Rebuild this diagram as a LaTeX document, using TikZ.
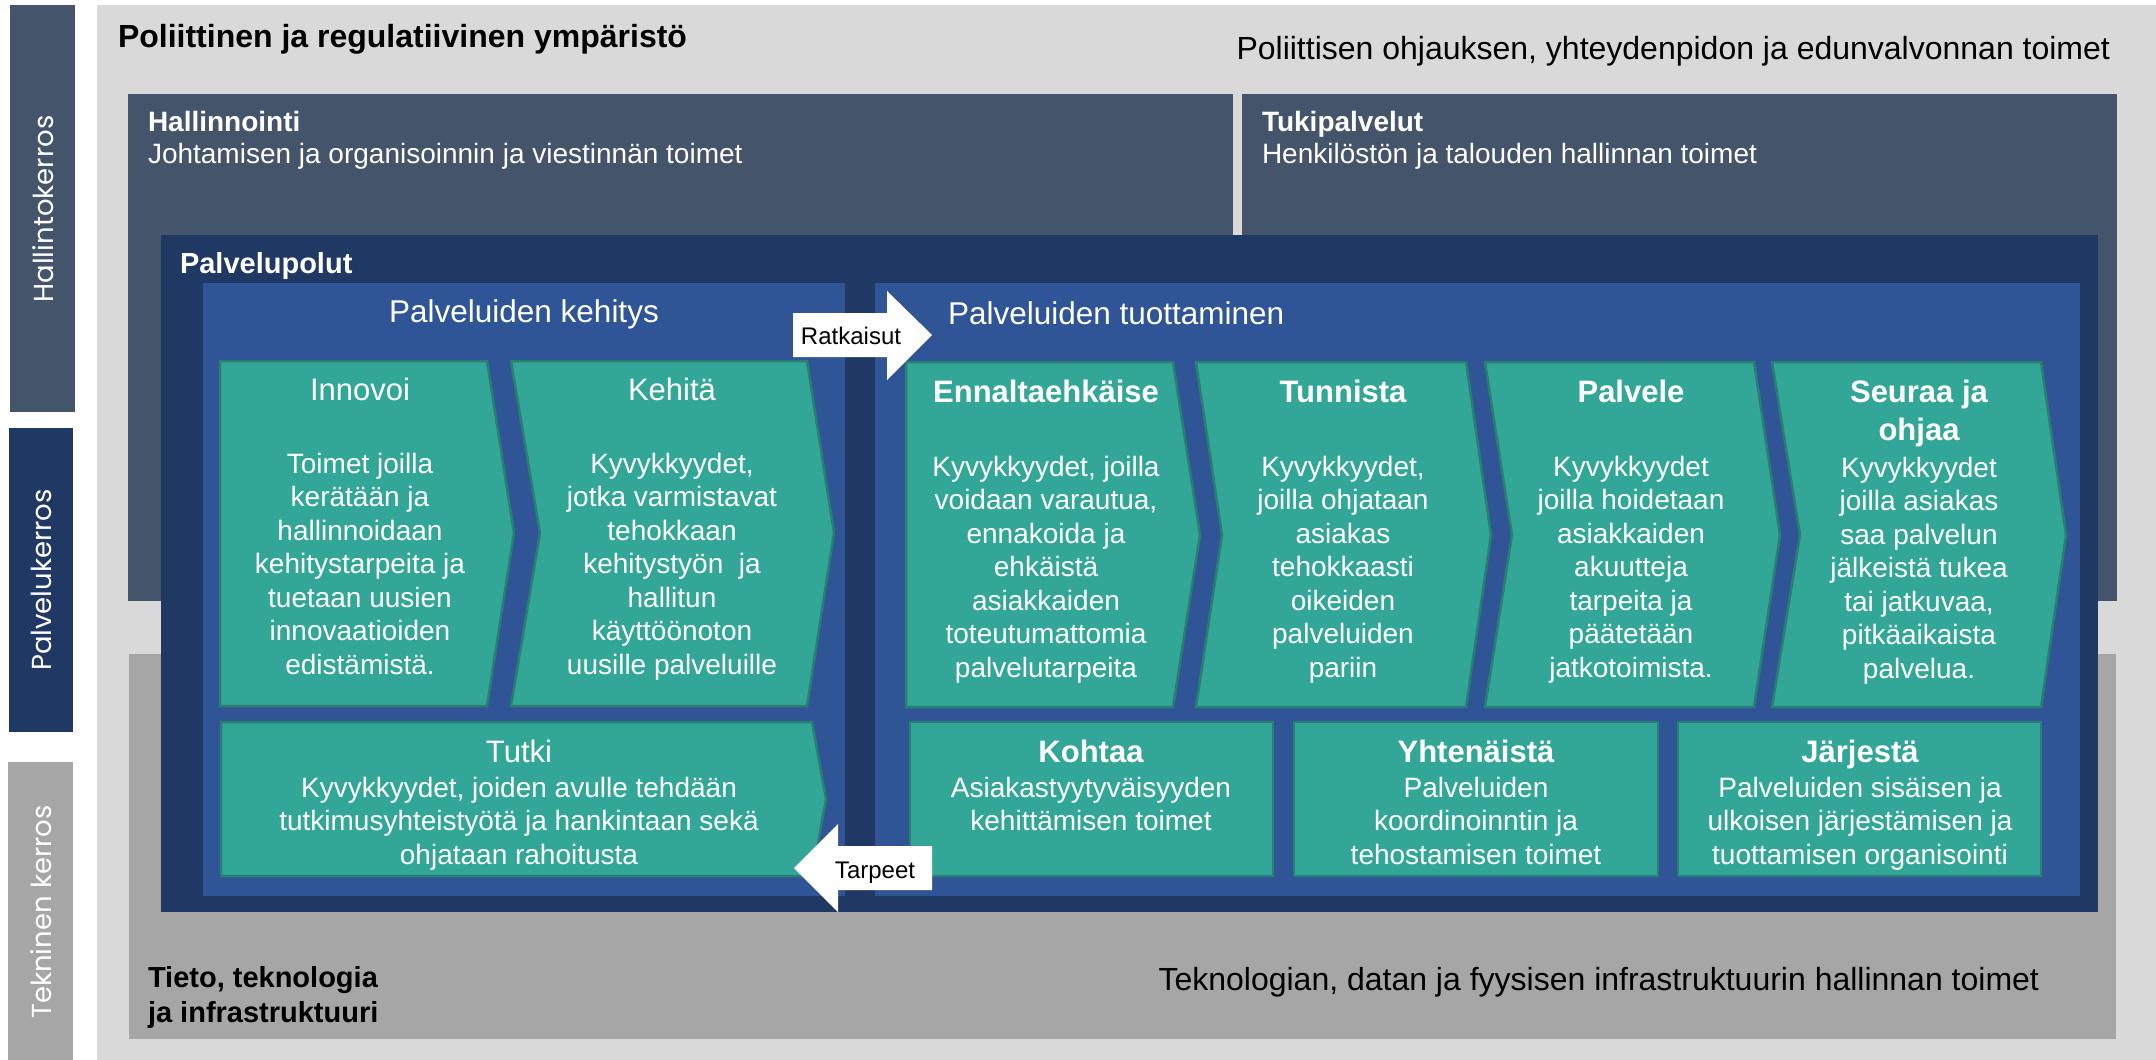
\documentclass[tikz,border=0pt]{standalone}
\usepackage{fontspec}
\setmainfont{Liberation Sans}
\newfontfamily\sidefont{Poppins}
\definecolor{bglight}{HTML}{D9D9D9}
\definecolor{bgmid}{HTML}{A6A6A6}
\definecolor{slate}{HTML}{44546A}
\definecolor{navy}{HTML}{203864}
\definecolor{panelblue}{HTML}{2F5597}
\definecolor{tealfill}{HTML}{33A797}
\definecolor{tealedge}{HTML}{2A7F73}
\newcommand{\szhead}{\fontsize{32}{38}\selectfont}
\newcommand{\szsub}{\fontsize{28}{35}\selectfont}
\newcommand{\szsubb}{\fontsize{29}{35}\selectfont}
\newcommand{\szpanel}{\fontsize{31.5}{38}\selectfont}
\newcommand{\sztitle}{\fontsize{31}{38}\selectfont}
\newcommand{\szbody}{\fontsize{28}{33.5}\selectfont}
\newcommand{\szarrow}{\fontsize{24}{28}\selectfont}
\newcommand{\szside}{\sidefont\fontsize{27.5}{32}\selectfont}
\tikzset{
  txt/.style={inner sep=0pt, outer sep=0pt, text=white},
  darktxt/.style={inner sep=0pt, outer sep=0pt, text=black},
  % multi-line texts are placed by the baseline of their last line
  bodytxt/.style={txt, align=center, font=\szbody, anchor=base},
  titletxt/.style={txt, align=center, font=\sztitle, anchor=base},
  boldtitle/.style={titletxt, font=\sztitle\bfseries},
  sidetxt/.style={txt, font=\szside, rotate=90, anchor=center},
  tealbox/.style={fill=tealfill, draw=tealedge, line width=2.5pt, line join=miter},
  blockarrow/.style={fill=white, draw=none},
}
\begin{document}
\begin{tikzpicture}[x=1pt, y=-1pt]
\useasboundingbox (0,0) rectangle (2156,1060);
\fill[white] (0,0) rectangle (2156,1060);

% layer bars on the left
\fill[slate] (10,5) rectangle (75,412);
\fill[navy] (9,428) rectangle (73,732);
\fill[bgmid] (8,762) rectangle (73,1060);
\node[sidetxt] (lblhallinto) at (43,209) {Hallintokerros};
\node[sidetxt] (lblpalvelu) at (41,580) {Palvelukerros};
\node[sidetxt] (lbltekninen) at (41,912) {Tekninen kerros};

% environment, administration and technology layers
\fill[bglight] (97,5) rectangle (2156,1060);
\fill[slate] (128,94) rectangle (1233,601);
\fill[slate] (1242,94) rectangle (2117,601);
\fill[bgmid] (129,654) rectangle (2116,1039);

\node[darktxt, font=\szhead\bfseries, anchor=base west] (polit) at (118,47) {Poliittinen ja regulatiivinen ympäristö};
\node[darktxt, font=\szhead, anchor=base east] (politdesc) at (2110,59) {Poliittisen ohjauksen, yhteydenpidon ja edunvalvonnan toimet};
\node[txt, font=\szsub\bfseries, anchor=base west] (hall) at (148,131) {Hallinnointi};
\node[txt, font=\szsub, anchor=base west] (halldesc) at (148,163) {Johtamisen ja organisoinnin ja viestinnän toimet};
\node[txt, font=\szsub\bfseries, anchor=base west] (tuki) at (1262,131) {Tukipalvelut};
\node[txt, font=\szsub, anchor=base west] (tukidesc) at (1262,163) {Henkilöstön ja talouden hallinnan toimet};
\node[darktxt, font=\szsubb\bfseries, anchor=base west, align=left] (tieto) at (148,1022) {Tieto, teknologia\\ja infrastruktuuri};
\node[darktxt, font=\szhead, anchor=base east] (tietodesc) at (2039,990) {Teknologian, datan ja fyysisen infrastruktuurin hallinnan toimet};

% service paths
\fill[navy] (161,235) rectangle (2098,912);
\node[txt, font=\szsubb\bfseries, anchor=base west] (polut) at (180,273) {Palvelupolut};
\fill[panelblue] (203,283) rectangle (845,896);
\fill[panelblue] (875,283) rectangle (2080,896);
\node[txt, font=\szpanel, anchor=base] (kehitys) at (524,322) {Palveluiden kehitys};
\node[txt, font=\szpanel, anchor=base west] (tuottaminen) at (948,324) {Palveluiden tuottaminen};

% development steps
\path[tealbox] (220,361) -- (487,361) -- (514,533) -- (487,706) -- (220,706) -- cycle;
\path[tealbox] (511,361) -- (807,361) -- (834,533) -- (807,706) -- (511,706) -- (540,533) -- cycle;
\path[tealbox] (221,722) -- (812,722) -- (826,799) -- (812,876) -- (221,876) -- cycle;

\node[titletxt] (innovoi) at (360,400) {Innovoi};
\node[bodytxt] (innovoidesc) at (360,674) {Toimet joilla\\kerätään ja\\hallinnoidaan\\kehitystarpeita ja\\tuetaan uusien\\innovaatioiden\\edistämistä.};
\node[titletxt] (kehita) at (672,400) {Kehitä};
\node[bodytxt] (kehitadesc) at (672,674) {Kyvykkyydet,\\jotka varmistavat\\tehokkaan\\kehitystyön~ ja\\hallitun\\käyttöönoton\\uusille palveluille};
\node[titletxt] (tutki) at (519,762) {Tutki};
\node[bodytxt] (tutkidesc) at (519,864) {Kyvykkyydet, joiden avulle tehdään\\tutkimusyhteistyötä ja hankintaan sekä\\ohjataan rahoitusta};

% production steps
\path[tealbox] (906,362) -- (1173,362) -- (1200,535) -- (1173,707) -- (906,707) -- cycle;
\path[tealbox] (1196,362) -- (1466,362) -- (1491,535) -- (1466,707) -- (1196,707) -- (1222,535) -- cycle;
\path[tealbox] (1485,362) -- (1754,362) -- (1780,535) -- (1754,707) -- (1485,707) -- (1512,535) -- cycle;
\path[tealbox] (1772,362) -- (2041,362) -- (2066,535) -- (2041,707) -- (1772,707) -- (1800,535) -- cycle;
\path[tealbox] (910,722) rectangle (1273,876);
\path[tealbox] (1294,722) rectangle (1658,876);
\path[tealbox] (1678,722) rectangle (2041,876);

\node[boldtitle] (ennalt) at (1046,402) {Ennaltaehkäise};
\node[bodytxt] (ennaltdesc) at (1046,677) {Kyvykkyydet, joilla\\voidaan varautua,\\ennakoida ja\\ehkäistä\\asiakkaiden\\toteutumattomia\\palvelutarpeita};
\node[boldtitle] (tunnista) at (1343,402) {Tunnista};
\node[bodytxt] (tunnistadesc) at (1343,677) {Kyvykkyydet,\\joilla ohjataan\\asiakas\\tehokkaasti\\oikeiden\\palveluiden\\pariin};
\node[boldtitle] (palvele) at (1631,402) {Palvele};
\node[bodytxt] (palveledesc) at (1631,677) {Kyvykkyydet\\joilla hoidetaan\\asiakkaiden\\akuutteja\\tarpeita ja\\päätetään\\jatkotoimista.};
\node[boldtitle] (seuraa) at (1919,440) {Seuraa ja\\ohjaa};
\node[bodytxt] (seuraadesc) at (1919,678) {Kyvykkyydet\\joilla asiakas\\saa palvelun\\jälkeistä tukea\\tai jatkuvaa,\\pitkäaikaista\\palvelua.};

\node[boldtitle] (kohtaa) at (1091,762) {Kohtaa};
\node[bodytxt] (kohtaadesc) at (1091,830.5) {Asiakastyytyväisyyden\\kehittämisen toimet};
\node[boldtitle] (yhten) at (1476,762) {Yhtenäistä};
\node[bodytxt] (yhtendesc) at (1476,864) {Palveluiden\\koordinoinntin ja\\tehostamisen toimet};
\node[boldtitle] (jarj) at (1860,762) {Järjestä};
\node[bodytxt] (jarjdesc) at (1860,864) {Palveluiden sisäisen ja\\ulkoisen järjestämisen ja\\tuottamisen organisointi};

% flows between development and production
\path[blockarrow] (793,313) -- (887,313) -- (887,291) -- (932,335) -- (887,380) -- (887,357) -- (793,357) -- cycle;
\node[darktxt, font=\szarrow, anchor=base] (ratk) at (851,344) {Ratkaisut};
\path[blockarrow] (932,846) -- (838,846) -- (838,824) -- (794,868) -- (838,912) -- (838,890) -- (932,890) -- cycle;
\node[darktxt, font=\szarrow, anchor=base] (tarp) at (875,878) {Tarpeet};
\end{tikzpicture}
\end{document}
